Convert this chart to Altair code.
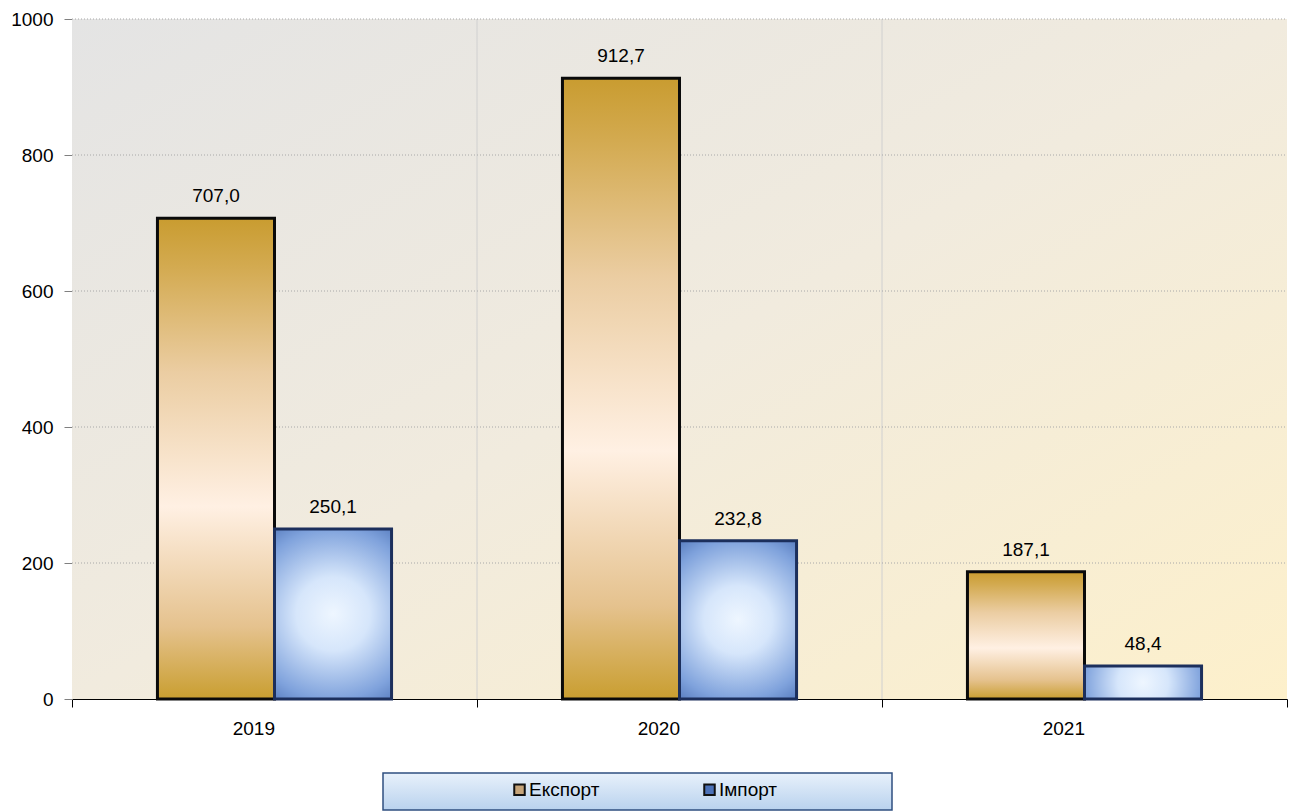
import altair as alt
import pandas as pd

years = ["2019", "2020", "2021"]
export_vals = [707.0, 912.7, 187.1]
import_vals = [250.1, 232.8, 48.4]
series_names = ["Експорт", "Імпорт"]
y_ticks = [0, 200, 400, 600, 800, 1000]

rows = []
for y, e, i in zip(years, export_vals, import_vals):
    rows.append({"year": y, "series": series_names[0], "value": e,
                 "label": f"{e:.1f}".replace(".", ",")})
    rows.append({"year": y, "series": series_names[1], "value": i,
                 "label": f"{i:.1f}".replace(".", ",")})
df = pd.DataFrame(rows)

W, H = 1215, 680
FONT = "Liberation Sans"
FS = 19

x_enc = alt.X("year:N", sort=years, title=None,
              scale=alt.Scale(paddingInner=0, paddingOuter=0),
              axis=alt.Axis(labelAngle=0, tickBand="extent", tickSize=8,
                            labelPadding=21, grid=False, domainColor="#000000",
                            tickColor="#000000"))
xo_enc = alt.XOffset("series:N", sort=series_names,
                     scale=alt.Scale(domain=series_names, paddingOuter=0.73, paddingInner=0))
y_enc = alt.Y("value:Q", title=None,
              scale=alt.Scale(domain=[0, 1000], nice=False),
              axis=alt.Axis(values=y_ticks, format="d", tickSize=8, labelPadding=11, grid=False,
                            domainColor="#808080", tickColor="#808080"))

bg_grad = {"gradient": "linear", "x1": 0, "y1": 0, "x2": 1, "y2": 1,
           "stops": [{"offset": 0, "color": "#e4e4e4"},
                     {"offset": 0.5, "color": "#f1ebde"},
                     {"offset": 1, "color": "#fdf0cb"}]}
export_grad = {"gradient": "linear", "x1": 0, "y1": 0, "x2": 0, "y2": 1,
               "stops": [{"offset": 0, "color": "#c99c30"},
                         {"offset": 0.1, "color": "#d3aa50"},
                         {"offset": 0.32, "color": "#ebcda2"},
                         {"offset": 0.6, "color": "#fff0e3"},
                         {"offset": 0.85, "color": "#e5c28e"},
                         {"offset": 1, "color": "#c99e30"}]}
import_grad = {"gradient": "radial", "x1": 0.5, "y1": 0.5, "r1": 0,
               "x2": 0.5, "y2": 0.5, "r2": 0.72,
               "stops": [{"offset": 0, "color": "#eef6ff"},
                         {"offset": 0.3, "color": "#d6e6fb"},
                         {"offset": 0.7, "color": "#7fa2dc"},
                         {"offset": 1, "color": "#3a60a8"}]}
legend_grad = {"gradient": "linear", "x1": 0, "y1": 0, "x2": 0, "y2": 1,
               "stops": [{"offset": 0, "color": "#e8f1fb"},
                         {"offset": 1, "color": "#b9d2ee"}]}

one = pd.DataFrame({"k": [0]})

background = alt.Chart(one).mark_rect(fill=bg_grad).encode(
    x=alt.value(0), x2=alt.value(W), y=alt.value(0), y2=alt.value(H))

vgrid = alt.Chart(pd.DataFrame({"year": years[1:]})).mark_rule(
    color="#d0d0d0", strokeWidth=1).encode(
    x=alt.X("year:N", sort=years, bandPosition=0), y=alt.value(0), y2=alt.value(H))

hgrid = alt.Chart(pd.DataFrame({"value": y_ticks[1:]})).mark_rule(
    color="#a8a8a8", strokeWidth=1, strokeDash=[1, 2]).encode(
    y="value:Q", x=alt.value(0), x2=alt.value(W))

legend_box = alt.Chart(one).mark_rect(fill=legend_grad, stroke="#2f4f80", strokeWidth=1.5).encode(
    x=alt.value(311), x2=alt.value(820), y=alt.value(754), y2=alt.value(791))

base_bars = alt.Chart(df).mark_bar().encode(
    x=x_enc, xOffset=xo_enc, y=y_enc,
    color=alt.Color("series:N", sort=series_names,
                    scale=alt.Scale(domain=series_names, range=["#c7a57a", "#4d72b8"]),
                    legend=alt.Legend(title=None, orient="none", legendX=438, legendY=761,
                                      direction="horizontal", symbolType="square",
                                      symbolSize=110, symbolStrokeColor="#111111",
                                      symbolStrokeWidth=2, labelFont=FONT, labelFontSize=FS,
                                      labelColor="#000000", columnPadding=100, labelOffset=0)))

export_bars = alt.Chart(df).transform_filter(
    alt.datum.series == series_names[0]).mark_bar(
    fill=export_grad, stroke="#0a0a0a", strokeWidth=3).encode(
    x=x_enc, xOffset=xo_enc, y=y_enc)

import_bars = alt.Chart(df).transform_filter(
    alt.datum.series == series_names[1]).mark_bar(
    fill=import_grad, stroke="#1c2f5c", strokeWidth=3).encode(
    x=x_enc, xOffset=xo_enc, y=y_enc)

labels = alt.Chart(df).mark_text(
    baseline="bottom", dy=-12, font=FONT, fontSize=FS, color="#000000").encode(
    x=x_enc, xOffset=xo_enc, y=y_enc, text="label:N")

chart = alt.layer(background, vgrid, hgrid, legend_box, base_bars,
                  export_bars, import_bars, labels).properties(
    width=W, height=H,
    autosize=alt.AutoSizeParams(type="none"),
    padding={"left": 72, "top": 19, "right": 2, "bottom": 113},
    background="#ffffff",
).configure_view(stroke=None).configure_axis(
    labelFont=FONT, labelFontSize=FS, labelColor="#000000", zindex=1)

chart.save("out.html", embed_options={"renderer": "svg", "actions": False})
